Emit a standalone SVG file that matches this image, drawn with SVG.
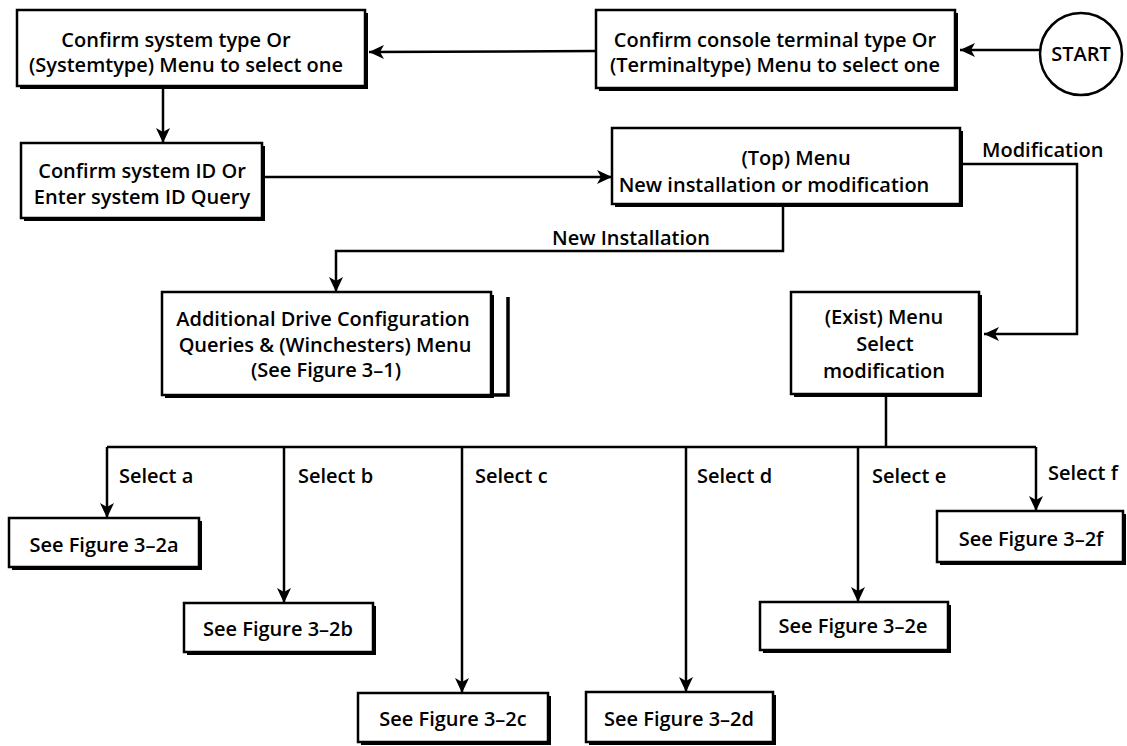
<svg xmlns="http://www.w3.org/2000/svg" width="1127" height="746" viewBox="0 0 1127 746">
<style>
  .bg { fill: #ffffff; }
  .shadow { fill: #000000; }
  .box { fill: #ffffff; stroke: #000000; stroke-width: 2.5; }
  .conn { fill: none; stroke: #000000; stroke-width: 2.5; }
  .bar { fill: none; stroke: #000000; stroke-width: 3.5; }
  text { font-family: "Open Sans", "Liberation Sans", Arial, sans-serif; font-weight: 600; font-size: 20px; fill: #000000; }
  .c { text-anchor: middle; }
  .l { text-anchor: start; }
</style>
<defs>
  <marker id="arr" markerUnits="userSpaceOnUse" markerWidth="16" markerHeight="14" viewBox="0 0 16 14" refX="15" refY="7" orient="auto">
    <path d="M0,0 L15,7 L0,14 L4,7 z" fill="#000000"/>
  </marker>
</defs>
<rect class="bg" x="0" y="0" width="1127" height="746"/>

<g id="connectors">
  <line class="conn" x1="1040" y1="50" x2="960" y2="50" marker-end="url(#arr)"/>
  <line class="conn" x1="596" y1="51" x2="369" y2="52" marker-end="url(#arr)"/>
  <line class="conn" x1="163" y1="89" x2="163" y2="143" marker-end="url(#arr)"/>
  <line class="conn" x1="265" y1="177" x2="612" y2="177" marker-end="url(#arr)"/>
  <path class="conn" d="M783,207 V251 H336 V292" marker-end="url(#arr)"/>
  <path class="conn" d="M963,164 H1077 V334 H984" marker-end="url(#arr)"/>
  <path class="conn" d="M886,397 V447"/>
  <path class="conn" d="M107,447 H1036"/>
  <path class="conn" d="M107,447 V518" marker-end="url(#arr)"/>
  <path class="conn" d="M284,447 V603" marker-end="url(#arr)"/>
  <path class="conn" d="M462,447 V693" marker-end="url(#arr)"/>
  <path class="conn" d="M686,447 V692" marker-end="url(#arr)"/>
  <path class="conn" d="M858,447 V602" marker-end="url(#arr)"/>
  <path class="conn" d="M1036,447 V511" marker-end="url(#arr)"/>
  <text class="c" x="631" y="245">New Installation</text>
  <text class="l" x="982" y="157">Modification</text>
  <text class="l" x="119" y="483">Select a</text>
  <text class="l" x="298" y="483">Select b</text>
  <text class="l" x="475" y="483">Select c</text>
  <text class="l" x="697" y="483">Select d</text>
  <text class="l" x="872" y="483">Select e</text>
  <text class="l" x="1048" y="480">Select f</text>
</g>

<g id="node-systemtype">
  <rect class="shadow" x="20" y="13" width="348" height="76"/>
  <rect class="box" x="17" y="10" width="348" height="76"/>
  <text class="c" x="176" y="47">Confirm system type Or</text>
  <text class="c" x="186" y="72">(Systemtype) Menu to select  one</text>
</g>

<g id="node-terminaltype">
  <rect class="shadow" x="599" y="13" width="359" height="78"/>
  <rect class="box" x="596" y="10" width="359" height="78"/>
  <text class="c" x="775" y="47">Confirm console terminal type Or</text>
  <text class="c" x="775" y="72">(Terminaltype) Menu to select one</text>
</g>

<g id="node-start">
  <circle cx="1081" cy="54" r="41" fill="#ffffff" stroke="#000000" stroke-width="2.5"/>
  <text class="c" x="1081" y="61">START</text>
</g>

<g id="node-systemid">
  <rect class="shadow" x="24" y="146" width="241" height="75"/>
  <rect class="box" x="21" y="143" width="241" height="75"/>
  <text class="c" x="142" y="178">Confirm system ID Or</text>
  <text class="c" x="142" y="204">Enter system ID Query</text>
</g>

<g id="node-top">
  <rect class="shadow" x="615" y="131" width="348" height="76"/>
  <rect class="box" x="612" y="128" width="348" height="76"/>
  <text class="c" x="796" y="165">(Top) Menu</text>
  <text class="c" x="774" y="192">New installation or modification</text>
</g>

<g id="node-additional">
  <rect class="shadow" x="165" y="295" width="329" height="103"/>
  <rect class="box" x="162" y="292" width="329" height="103"/>
  <path class="bar" d="M508,297 V395 H494"/>
  <text class="c" x="323" y="326">Additional Drive Configuration</text>
  <text class="c" x="325" y="352">Queries &amp; (Winchesters) Menu</text>
  <text class="c" x="326" y="377">(See Figure 3–1)</text>
</g>

<g id="node-exist">
  <rect class="shadow" x="794" y="295" width="188" height="102"/>
  <rect class="box" x="791" y="292" width="188" height="102"/>
  <text class="c" x="884" y="324">(Exist) Menu</text>
  <text class="c" x="885" y="351">Select</text>
  <text class="c" x="884" y="378">modification</text>
</g>

<g id="node-fig-a">
  <rect class="shadow" x="12" y="521" width="190" height="49"/>
  <rect class="box" x="9" y="518" width="190" height="49"/>
  <text class="c" x="104" y="552">See Figure 3–2a</text>
</g>

<g id="node-fig-b">
  <rect class="shadow" x="187" y="606" width="189" height="49"/>
  <rect class="box" x="184" y="603" width="189" height="49"/>
  <text class="c" x="278" y="636">See Figure 3–2b</text>
</g>

<g id="node-fig-c">
  <rect class="shadow" x="361" y="696" width="190" height="49"/>
  <rect class="box" x="358" y="693" width="190" height="49"/>
  <text class="c" x="453" y="726">See Figure 3–2c</text>
</g>

<g id="node-fig-d">
  <rect class="shadow" x="589" y="695" width="187" height="50"/>
  <rect class="box" x="586" y="692" width="187" height="50"/>
  <text class="c" x="679" y="726">See Figure 3–2d</text>
</g>

<g id="node-fig-e">
  <rect class="shadow" x="763" y="605" width="188" height="48"/>
  <rect class="box" x="760" y="602" width="188" height="48"/>
  <text class="c" x="853" y="633">See Figure 3–2e</text>
</g>

<g id="node-fig-f">
  <rect class="shadow" x="940" y="514" width="186" height="51"/>
  <rect class="box" x="937" y="511" width="186" height="51"/>
  <text class="c" x="1031" y="546">See Figure 3–2f</text>
</g>
</svg>
